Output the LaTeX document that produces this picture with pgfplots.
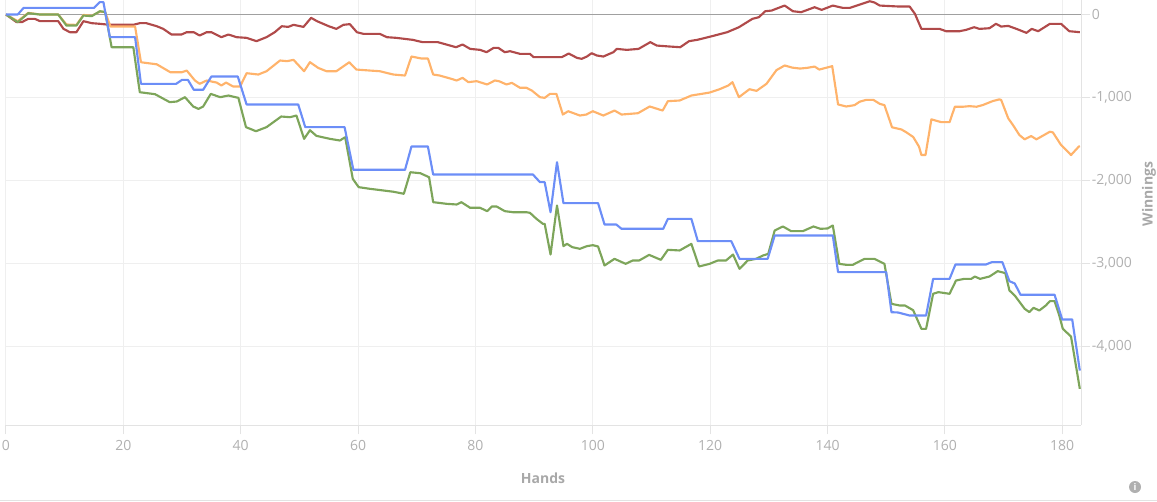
\documentclass[border=0pt]{standalone}
\usepackage{fontspec}
\setmainfont{Open Sans}
\usepackage{pgfplots}
\pgfplotsset{compat=1.18}
\definecolor{cblue}{HTML}{6C8EF7}
\definecolor{cgreen}{HTML}{7DA55A}
\definecolor{corange}{HTML}{FFB36B}
\definecolor{cred}{HTML}{B04A4A}
\definecolor{gridgray}{HTML}{EFEFEF}
\definecolor{axisgray}{HTML}{E3E3E3}
\definecolor{zerogray}{HTML}{A0A0A0}
\definecolor{labelgray}{HTML}{B0B0B0}
\definecolor{titlegray}{HTML}{A8A8A8}
\begin{document}
\begin{tikzpicture}[x=1pt,y=1pt]
\begin{axis}[
  at={(0,0)}, anchor=south west,
  scale only axis, width=806.25pt, height=318.75pt,
  xmin=0, xmax=183.2, ymin=-4946, ymax=175,
  axis x line*=bottom, axis y line*=right,
  axis line style={draw=axisgray, line width=0.75pt},
  xtick={0,20,40,60,80,100,120,140,160,180},
  xticklabels={0,20,40,60,80,100,120,140,160,180},
  ytick={-4000,-3000,-2000,-1000,0},
  yticklabels={{-4,000},{-3,000},{-2,000},{-1,000},{0}},
  grid=major, major grid style={draw=gridgray, line width=0.75pt},
  tick align=outside, major tick length=7pt,
  tick style={draw=axisgray, line width=0.75pt},
  xticklabel style={font=\fontsize{10.5}{12}\selectfont, text=labelgray, anchor=north, inner sep=0pt, yshift=-4pt},
  yticklabel style={font=\fontsize{10.5}{12}\selectfont, text=labelgray, anchor=west, inner sep=0pt, xshift=1pt},
  clip=false,
  every axis plot/.append style={no markers, line width=1.6pt, line join=round},
]
\draw[zerogray, line width=0.75pt] (axis cs:0,0) -- (axis cs:183.2,0);
% red
\addplot[cred] coordinates {
(0,0) (1.8,-92) (2.7,-92) (3.8,-52) (4.9,-52) (5.8,-80) (8.9,-80) (9.8,-173) (10.9,-213) (12,-213) (13.2,-80) (14.6,-104) (16,-112) (17.7,-124) (21.7,-124) (22.8,-104) (23.9,-104) (25.7,-141) (26.8,-173) (28.2,-241) (29.9,-241) (30.8,-213) (32,-213) (33,-253) (34.2,-213) (35,-213) (36.7,-273) (37.9,-241) (39.3,-273) (41,-281) (42.7,-321) (44.4,-273) (45.8,-213) (47,-141) (48.1,-149) (49,-124) (50.7,-149) (52,-40) (53,-80) (55,-141) (56.3,-173) (57.5,-124) (58.6,-116) (59.8,-213) (60.9,-233) (63.7,-233) (64.9,-273) (66.5,-281) (69.3,-305) (71,-333) (73.6,-333) (76.7,-394) (77.8,-361) (79.1,-414) (80.8,-426) (81.9,-454) (83.1,-402) (83.9,-402) (85,-454) (85.9,-442) (87.6,-474) (89.3,-474) (89.9,-514) (94.7,-514) (95.9,-470) (97.3,-522) (98.1,-534) (99,-506) (99.8,-466) (100.7,-494) (101.8,-506) (103.5,-454) (104.1,-414) (105.8,-426) (107.8,-414) (109.8,-333) (110.9,-374) (113.2,-386) (114.9,-394) (116.4,-321) (117.8,-305) (120.1,-265) (122.9,-213) (124.9,-153) (127.2,-52) (128.3,-32) (129.4,40) (130.5,48) (131.2,68) (132.7,108) (134.1,40) (135.5,28) (137.8,88) (139,56) (140.9,108) (142.6,80) (143.8,80) (145.5,120) (147.2,160) (148,145) (148.9,108) (151.1,100) (152.3,96) (154,96) (154.9,8) (156,-173) (159.1,-173) (160.2,-201) (162.5,-201) (163.6,-185) (165,-153) (165.9,-173) (167.6,-165) (168.7,-112) (169.6,-145) (170.8,-137) (172.2,-173) (173.9,-221) (174.8,-173) (175.9,-201) (177.9,-112) (179.8,-112) (181.2,-201) (183,-213)
};
% orange
\addplot[corange] coordinates {
(0,0) (2,-80) (3.8,20) (5.8,0) (8.9,0) (10.3,-120) (12,-125) (13.2,-5) (14.6,-15) (16,35) (16.9,30) (17.8,-145) (22,-145) (23,-575) (25.7,-600) (28,-695) (30,-695) (30.8,-675) (32.2,-795) (33,-835) (34.2,-795) (35.9,-820) (36.7,-855) (37.5,-820) (38.7,-867) (39.9,-867) (41,-707) (43,-723) (44.4,-683) (46.7,-554) (47.9,-562) (49,-546) (50.8,-683) (51.8,-574) (53.2,-643) (54.6,-683) (56.3,-683) (58.5,-575) (59.7,-663) (62,-675) (63.7,-683) (66,-723) (68,-735) (69.1,-506) (70.8,-530) (71.9,-530) (72.8,-723) (73.9,-735) (75.9,-775) (76.8,-795) (77.8,-763) (78.8,-815) (80.2,-803) (82,-843) (83.3,-795) (84,-803) (85.3,-843) (86.2,-823) (87.6,-883) (88.7,-883) (89.6,-915) (91,-996) (91.8,-1004) (92.7,-956) (93.8,-956) (94.9,-1205) (95.8,-1165) (97.8,-1217) (98.9,-1205) (100,-1165) (101.8,-1217) (103.7,-1157) (104.9,-1205) (107.7,-1189) (109.7,-1108) (111.9,-1157) (112.8,-1044) (114.8,-1036) (116.8,-976) (118.2,-960) (119.9,-940) (121.6,-900) (123.1,-855) (123.8,-815) (124.9,-996) (126.7,-900) (127.9,-920) (129.6,-835) (131.3,-670) (132.7,-614) (134,-640) (135.3,-651) (136.5,-643) (137.8,-627) (138.6,-663) (139.7,-643) (140.8,-622) (141.8,-1084) (143.2,-1108) (144.6,-1092) (145.5,-1050) (146.6,-1028) (147.8,-1028) (148.9,-1076) (149.7,-1092) (151,-1359) (152.6,-1385) (153.4,-1418) (154.6,-1475) (155.6,-1593) (156,-1693) (156.7,-1693) (157.7,-1263) (159.4,-1297) (160.8,-1297) (161.7,-1111) (163.1,-1111) (164.2,-1104) (165.4,-1111) (166.5,-1090) (168.2,-1042) (169.3,-1022) (169.6,-1030) (170.8,-1251) (171.6,-1331) (172.7,-1452) (173.6,-1504) (174.7,-1464) (175.6,-1504) (177.9,-1412) (178.4,-1420) (179.8,-1572) (181.5,-1693) (182.8,-1593) (183,-1585)
};
% green
\addplot[cgreen] coordinates {
(0,0) (2,-92) (3.8,16) (5.8,0) (8.9,0) (10.3,-133) (12,-133) (13.2,-12) (14.6,-20) (16,40) (16.9,30) (18,-394) (21.7,-394) (22.8,-936) (25.4,-960) (27.9,-1056) (29.1,-1048) (30.5,-996) (31.9,-1108) (32.8,-1137) (33.6,-1108) (34.9,-956) (36.5,-996) (37.9,-976) (39.6,-1004) (40.9,-1357) (42.6,-1406) (44.4,-1357) (46.9,-1229) (48.4,-1237) (49.5,-1217) (50.8,-1498) (51.8,-1394) (52.9,-1462) (55.2,-1498) (56.9,-1518) (57.8,-1478) (59.1,-1980) (60.1,-2080) (62,-2100) (64.3,-2120) (66,-2135) (67.8,-2160) (68.9,-1900) (70.6,-1912) (72.1,-1960) (72.8,-2261) (75.1,-2281) (76.8,-2289) (77.6,-2261) (79.1,-2329) (80.8,-2329) (82,-2369) (82.8,-2313) (83.6,-2313) (85,-2369) (86.4,-2382) (88.7,-2382) (89.3,-2390) (90.4,-2462) (91.5,-2522) (91.8,-2522) (92.8,-2892) (93.9,-2301) (95,-2791) (95.6,-2763) (96.5,-2803) (97.8,-2823) (99,-2791) (100,-2779) (100.9,-2795) (102,-3024) (103.7,-2944) (105.6,-3004) (106.8,-2964) (107.9,-2964) (109.6,-2896) (111.6,-2956) (112.8,-2835) (114.8,-2843) (116.8,-2763) (118.1,-3036) (119.9,-3004) (121.3,-2964) (122.7,-2964) (123.9,-2892) (125,-3064) (126.4,-2964) (127.8,-2944) (129,-2904) (129.9,-2884) (131,-2602) (132.4,-2554) (133.8,-2610) (135.8,-2610) (137.6,-2554) (138.8,-2582) (140,-2578) (140.9,-2542) (142,-3004) (143.2,-3016) (144.3,-3016) (146.3,-2944) (148,-2944) (149.7,-3004) (150.9,-3486) (152.3,-3506) (153.2,-3506) (154.6,-3563) (156,-3787) (156.8,-3787) (158,-3365) (158.9,-3345) (160.8,-3365) (161.9,-3205) (163.3,-3185) (164.5,-3185) (165.1,-3157) (166,-3185) (167.6,-3157) (169,-3092) (170.3,-3116) (171,-3325) (171.9,-3385) (173.6,-3546) (174.4,-3586) (175.1,-3534) (176.1,-3566) (177.2,-3506) (177.9,-3454) (178.7,-3454) (179.5,-3627) (180.1,-3787) (181.5,-3880) (183,-4510)
};
% blue
\addplot[cblue] coordinates {
(0,0) (2,0) (3,80) (15,80) (16,150) (16.6,150) (17.7,-273) (22,-273) (23,-835) (29,-835) (30,-787) (31,-787) (32,-907) (33.6,-907) (35,-747) (39.5,-747) (41,-1084) (49.8,-1084) (51,-1357) (57.7,-1357) (59.2,-1871) (68,-1871) (69.1,-1590) (71.9,-1590) (72.8,-1928) (89.8,-1928) (91,-2020) (91.8,-2020) (92.8,-2382) (93.9,-1779) (95,-2273) (100.9,-2273) (102,-2530) (104,-2530) (104.9,-2582) (112,-2582) (112.8,-2462) (116.8,-2462) (117.9,-2731) (123.6,-2731) (125,-2944) (129.8,-2944) (131,-2663) (140.9,-2663) (141.8,-3104) (150,-3104) (150.9,-3587) (152,-3590) (154,-3627) (156.8,-3627) (158,-3185) (160.8,-3185) (161.8,-3012) (167,-3012) (168,-2984) (169.8,-2984) (171,-3213) (171.9,-3240) (172.9,-3377) (178.7,-3377) (180,-3675) (181.7,-3675) (183,-4290)
};
\end{axis}
\node[font=\fontsize{10.5}{12}\selectfont\bfseries, text=titlegray] at (402.75pt,-39.75pt) {Hands};
\node[font=\fontsize{10.5}{12}\selectfont\bfseries, text=titlegray, rotate=90] at (857.25pt,173.25pt) {Winnings};
\draw[axisgray, line width=0.75pt] (-4.5pt,-56.25pt) -- (863.25pt,-56.25pt);
\fill[labelgray] (846.75pt,-46.5pt) circle (4.5pt);
\node[text=white, font=\fontsize{7}{8}\selectfont\bfseries, inner sep=0pt] at (846.75pt,-46.5pt) {i};
\pgfresetboundingbox
\path[use as bounding box] (-4.5pt,-57pt) rectangle (863.25pt,318.75pt);
\end{tikzpicture}
\end{document}
